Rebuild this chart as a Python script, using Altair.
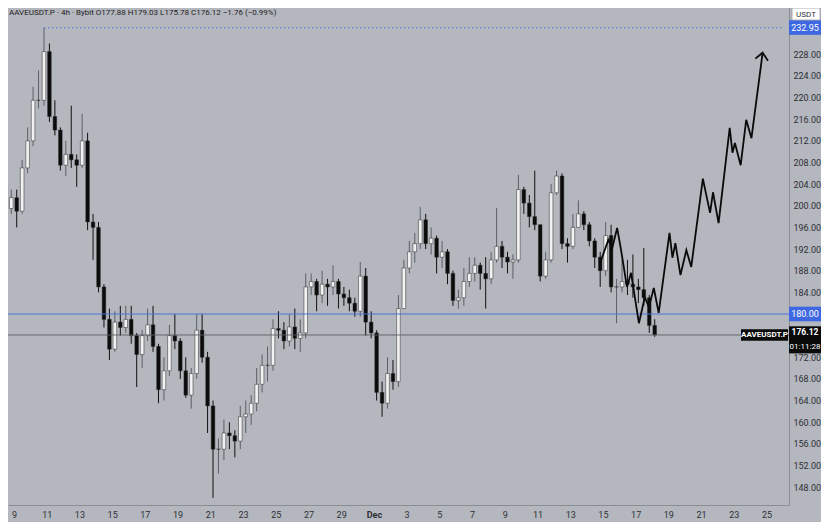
import altair as alt
import pandas as pd

# ---------------- data ----------------
first_open = 204.0
start_time = "2024-11-08 12:00"   # 8h candles, centre times

closes = [199.5, 201.5, 199, 207, 212, 219.5, 219.5, 228.5, 216.5, 214,
          207.5, 209.5, 208.5, 207.5, 212, 197, 196, 185, 179, 173.5,
          178.5, 177.5, 179, 176, 172.5, 176, 178, 174, 166, 169.5,
          176, 175, 169.5, 165, 169, 177, 172, 163, 155, 155,
          158, 157.5, 156.5, 161, 161.5, 163.5, 167, 170.5, 170.5, 177.3,
          177, 175, 177.6, 175.5, 176.5, 185, 186, 183.5, 185.5, 185,
          186, 183.7, 183, 182, 180.5, 187, 178.5, 176.5, 165.5, 163.5,
          169, 167.5, 181, 188.5, 191.5, 193, 197.4, 193, 194, 190.5,
          191.5, 187.5, 182.5, 183, 186, 187.5, 189, 187.5, 186.5, 190,
          192.5, 190.5, 189.6, 190, 203, 200.5, 198, 196.5, 187, 190,
          202.4, 205.5, 193, 192.5, 196, 198.5, 196.5, 193.5, 190.5, 188,
          194.5, 185, 185, 186, 185.5, 185, 184.5, 183, 177.88, 176.12]

highs = [209, 203, 203, 208.5, 214.5, 222, 225, 232.95, 230, 219.5,
         214.5, 212, 218.5, 209.5, 217, 213.5, 198.5, 197, 185.5, 181,
         180.5, 181.5, 181.5, 181.5, 176.5, 177, 181, 181.5, 174.5, 172,
         178, 180, 175.5, 172, 170, 180, 180, 173, 164, 157,
         160.5, 160, 158.5, 163, 164, 165, 170, 172.5, 174, 179,
         180.5, 178.5, 180, 181, 179, 187.5, 187.5, 186.5, 188, 186.5,
         189, 186.5, 185, 184.5, 183, 189.6, 188.5, 180.5, 177, 167.5,
         172, 171.5, 183.5, 190, 193.5, 195, 199.8, 198.5, 196, 194.5,
         193.5, 192, 188, 184.5, 188.5, 190.5, 190.5, 189.5, 190.5, 191.5,
         199.6, 193.5, 191.5, 191, 205.7, 203.5, 202, 206.5, 196.5, 191.5,
         204, 206.5, 206, 194, 198.5, 201, 199, 197, 194, 191.5,
         197, 196.5, 186.5, 190, 190, 191, 186.5, 192.2, 183.5, 179.03]

lows = [198, 198.5, 196, 198.5, 206, 211, 218, 218.5, 215.5, 213,
        206.5, 205.5, 207, 203.5, 207, 195.5, 190, 184, 177.5, 171.5,
        173, 176, 176.5, 174.5, 166.5, 170, 175, 173, 163.5, 164,
        168.5, 173.5, 168, 164.5, 162.5, 168, 171, 158, 146, 150.5,
        153, 155, 153.5, 155, 158, 159.5, 162, 165.5, 167.5, 169.5,
        175.5, 173.5, 174, 173.5, 173, 175.5, 183.5, 180.5, 182, 181.5,
        183.5, 181, 181.5, 180.5, 179.5, 179.5, 176, 175.5, 164, 161,
        162.5, 166, 166.5, 181, 187.5, 189.5, 192, 192, 191, 187.5,
        188.5, 185.5, 181.5, 181, 181.5, 185, 186, 184.5, 181, 185.5,
        189.5, 188.5, 187.5, 186.5, 189.5, 198.5, 196, 195.5, 186, 186.5,
        189.5, 202, 192, 189.5, 192, 196.5, 195.5, 192.5, 188.5, 185,
        187, 184, 178.3, 184, 183.5, 183, 182, 181.5, 176.5, 175.78]

# hand-drawn projection (days after 9 Nov 00:00 UTC, price)
proj_days = [35.85, 36.33, 36.57, 36.87, 37.11, 37.47, 37.72, 38.20, 38.56, 38.81,
             39.11, 39.41, 40.07, 40.25, 40.43, 40.74, 41.10, 41.40, 42.11, 42.55,
             42.73, 43.07, 43.75, 43.92, 44.07, 44.42, 44.76, 45.08, 45.76]
proj_prices = [189.6, 193.7, 192.2, 195.9, 191.8, 185.0, 187.6, 178.3, 183.1, 181.3,
               184.8, 180.2, 195.0, 190.4, 193.1, 187.2, 191.8, 188.7, 205.0, 198.7,
               202.5, 196.8, 214.4, 209.8, 211.6, 207.5, 215.9, 212.5, 228.2]
arrow_days = [45.32, 45.76, 46.09]
arrow_prices = [227.2, 228.3, 226.8]

high_level = 232.95
level_line = 180.00
last_price = 176.12
countdown = "01:11:28"
symbol = "AAVEUSDT.P"
header = "AAVEUSDT.P · 4h · Bybit  O177.88 H179.03 L175.78 C176.12 −1.76 (−0.99%)"
nov_days = list(range(9, 30, 2))
dec_days = list(range(1, 26, 2))
y_ticks = [v for v in range(148, 229, 4) if v not in (176, 180)]  # those two sit under price tags

# ---------------- frames ----------------
n = len(closes)
times = pd.date_range(start_time, periods=n, freq="8h", tz="UTC")
opens = [first_open] + closes[:-1]
df = pd.DataFrame({"t": times, "open": opens, "close": closes, "high": highs, "low": lows})
df["high"] = df[["high", "open", "close"]].max(axis=1)
df["low"] = df[["low", "open", "close"]].min(axis=1)
df["up"] = df["close"] >= df["open"]

base_day = pd.Timestamp("2024-11-09", tz="UTC")
proj = pd.DataFrame({"t": base_day + pd.to_timedelta(proj_days, unit="D"), "p": proj_prices})
arrow = pd.DataFrame({"t": base_day + pd.to_timedelta(arrow_days, unit="D"), "p": arrow_prices})

x_end = pd.Timestamp("2024-12-26 01:40", tz="UTC")
dotted = pd.DataFrame({"t": [times[7]], "t2": [x_end], "p": [high_level]})
levels = pd.DataFrame({"p": [level_line, last_price], "c": ["#4d72dc", "#5a5d63"],
                       "w": [1.1, 0.9]})

blue_boxes = pd.DataFrame({"p": [high_level, level_line],
                           "label": [f"{high_level:.2f}", f"{level_line:.2f}"]})
last_box = pd.DataFrame({"p": [last_price], "label": [f"{last_price:.2f}"],
                         "timer": [countdown], "sym": [symbol]})
hdr = pd.DataFrame({"txt": [header]})
unit = pd.DataFrame({"txt": ["USDT"]})

# ---------------- scales / axes ----------------
xscale = alt.Scale(type="utc",
                   domain=[alt.DateTime(year=2024, month=11, date=8, hours=22, minutes=33, utc=True),
                           alt.DateTime(year=2024, month=12, date=26, hours=1, minutes=40, utc=True)])
yscale = alt.Scale(domain=[144.69, 236.56], nice=False, zero=False)

tick_vals = ([alt.DateTime(year=2024, month=11, date=d, utc=True) for d in nov_days] +
             [alt.DateTime(year=2024, month=12, date=d, utc=True) for d in dec_days])
xaxis = alt.Axis(values=tick_vals, title=None, grid=False, ticks=False,
                 labelExpr="utcdate(datum.value) == 1 ? utcFormat(datum.value, '%b') : utcFormat(datum.value, '%-d')",
                 labelFontWeight={"condition": {"test": "utcdate(datum.value) == 1", "value": "bold"},
                                  "value": "normal"},
                 labelPadding=5, labelFontSize=9, labelColor="#2e3036", labelFont="Roboto",
                 domainColor="#8a8d94", labelFlush=False, labelOverlap=False)
yaxis = alt.Axis(orient="right", values=y_ticks, format=".2f", title=None, grid=False,
                 ticks=False, labelPadding=4, labelFontSize=9, labelColor="#2e3036",
                 labelFont="Roboto", domainColor="#8a8d94", labelFlush=False,
                 labelOverlap=False)

X = lambda f: alt.X(f, scale=xscale, axis=xaxis)
Y = lambda f: alt.Y(f, scale=yscale, axis=yaxis)

# ---------------- layers ----------------
wicks = alt.Chart(df).mark_rule(strokeWidth=1).encode(
    x=X("t:T"), y=Y("low:Q"), y2="high:Q",
    color=alt.condition("datum.up", alt.value("#5c5f66"), alt.value("#111111")))

bodies = alt.Chart(df).mark_bar(size=3.6, stroke="#2b2b2b", strokeWidth=0.5).encode(
    x=X("t:T"), y=Y("open:Q"), y2="close:Q",
    color=alt.condition("datum.up", alt.value("#f2f2f2"), alt.value("#0b0b0b")))

hlines = alt.Chart(levels).mark_rule().encode(
    y=Y("p:Q"), color=alt.Color("c:N", scale=None), strokeWidth=alt.StrokeWidth("w:Q", scale=None))

dotted_line = alt.Chart(dotted).mark_rule(color="#6a7fd6", strokeDash=[1.5, 2.5], strokeWidth=1.2).encode(
    x=X("t:T"), x2="t2:T", y=Y("p:Q"))

proj_line = alt.Chart(proj).mark_line(color="#0a0a0a", strokeWidth=1.8).encode(
    x=X("t:T"), y=Y("p:Q"))
arrow_line = alt.Chart(arrow).mark_line(color="#0a0a0a", strokeWidth=1.8).encode(
    x=X("t:T"), y=Y("p:Q"))

blue_rect = alt.Chart(blue_boxes).transform_calculate(
    top="datum.p + 1.35", bot="datum.p - 1.35").mark_rect(color="#3e68e3").encode(
    x=alt.value(781), x2=alt.value(813), y=Y("top:Q"), y2="bot:Q")
blue_text = alt.Chart(blue_boxes).mark_text(color="white", fontSize=9, font="Roboto",
                                            align="center", baseline="middle").encode(
    x=alt.value(797), y=Y("p:Q"), text="label:N")

last_rect = alt.Chart(last_box).transform_calculate(
    top="datum.p + 1.6", bot="datum.p - 3.4").mark_rect(color="#0a0a0a").encode(
    x=alt.value(781), x2=alt.value(813), y=Y("top:Q"), y2="bot:Q")
last_text = alt.Chart(last_box).transform_calculate(py="datum.p + 0.55").mark_text(
    color="white", fontSize=8.5, font="Roboto", fontWeight="bold", align="center",
    baseline="middle").encode(x=alt.value(797), y=Y("py:Q"), text="label:N")
timer_text = alt.Chart(last_box).transform_calculate(py="datum.p - 2.15").mark_text(
    color="white", fontSize=8, font="Roboto", align="center", baseline="middle").encode(
    x=alt.value(797), y=Y("py:Q"), text="timer:N")
sym_rect = alt.Chart(last_box).transform_calculate(
    top="datum.p + 1.05", bot="datum.p - 1.05").mark_rect(color="#0a0a0a").encode(
    x=alt.value(733), x2=alt.value(780), y=Y("top:Q"), y2="bot:Q")
sym_text = alt.Chart(last_box).mark_text(color="white", fontSize=8, font="Roboto",
                                         fontWeight="bold", align="center", baseline="middle").encode(
    x=alt.value(756.5), y=Y("p:Q"), text="sym:N")

header_text = alt.Chart(hdr).mark_text(color="#1f2126", fontSize=8, font="Roboto",
                                       align="left", baseline="middle").encode(
    x=alt.value(1), y=alt.value(5), text="txt:N")
unit_rect = alt.Chart(unit).mark_rect(color="#ffffff", stroke="#9a9da4", strokeWidth=0.8).encode(
    x=alt.value(784), x2=alt.value(812), y=alt.value(0), y2=alt.value(12))
unit_text = alt.Chart(unit).mark_text(color="#2e3036", fontSize=8, font="Roboto",
                                      align="center", baseline="middle").encode(
    x=alt.value(798), y=alt.value(6.5), text="txt:N")

chart = alt.layer(
    wicks, bodies, hlines, dotted_line, proj_line, arrow_line,
    blue_rect, blue_text, last_rect, last_text, timer_text, sym_rect, sym_text,
    header_text, unit_rect, unit_text
).properties(
    width=781, height=497,
    autosize=alt.AutoSizeParams(type="none"),
    padding={"left": 0, "top": 0, "right": 32, "bottom": 17},
).configure(background="#b4b7be").configure_view(stroke=None)

chart.save("out.html", embed_options={"renderer": "svg", "actions": False})
